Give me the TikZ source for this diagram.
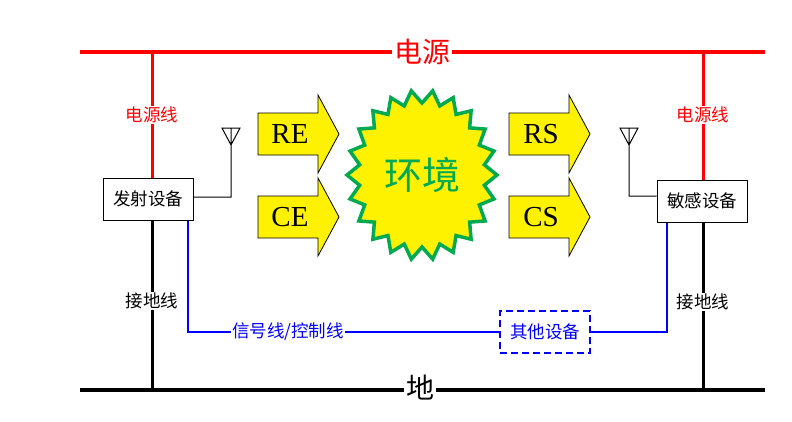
\documentclass[tikz,border=0pt]{standalone}
\usepackage{fontspec}
\setmainfont{Liberation Serif}
\newfontfamily\cjk{Noto Sans CJK SC}
\usetikzlibrary{calc}
\begin{document}
\begin{tikzpicture}[x=1pt,y=-1pt,
  dev/.style={draw,line width=1pt,fill=white,minimum width=90pt,minimum height=42pt,inner sep=0pt,font=\cjk\fontsize{17.5}{17.5}\selectfont},
  lab/.style={fill=white,inner sep=1pt,font=\cjk\fontsize{17.5}{17.5}\selectfont},
  arr/.style={draw,line width=0.8pt,fill=yellow},
  ant/.style={line width=1pt}]
\useasboundingbox (0,0) rectangle (792,421);
% power and ground
\coordinate (pl) at (80,52); \coordinate (pr) at (765,52);
\coordinate (gl) at (80,390); \coordinate (gr) at (765,390);
\draw[red,line width=3.5pt] (pl) -- (pr);
\draw[line width=3.5pt] (gl) -- (gr);
\node (tx) [dev] at (148,199) {发射设备};
\node (rx) [dev] at (702,201) {敏感设备};
\coordinate (txp) at (152,52); \coordinate (rxp) at (703,52);
\coordinate (txg) at (152,390); \coordinate (rxg) at (703,390);
\draw[red,line width=3pt] (txp) -- (tx.north -| txp);
\draw[red,line width=3pt] (rxp) -- (rx.north -| rxp);
\draw[line width=3pt] (tx.south -| txg) -- (txg);
\draw[line width=3pt] (rx.south -| rxg) -- (rxg);
\node[lab,text=red] at (152,115) {电源线};
\node[lab,text=red] at (703,115) {电源线};
\node[lab] at (152,301) {接地线};
\node[lab] at (703,302) {接地线};
\node[fill=white,inner sep=2pt,text=red,font=\cjk\fontsize{28}{28}\selectfont] at (422,52) {电源};
\node[fill=white,inner sep=2pt,font=\cjk\fontsize{28}{28}\selectfont] at (420,388) {地};
% antennas
\coordinate (a1) at (231,145); \coordinate (a2) at (629,145);
\draw[ant] (222,128) -- (240,128) -- (a1) -- cycle (231,128) -- (a1) -- (231,197) -- (tx.east |- 0,197);
\draw[ant] (620,128) -- (638,128) -- (a2) -- cycle (629,128) -- (a2) -- (629,196) -- (rx.west |- 0,196);
% signal line
\node (oth) [draw=blue,dash pattern=on 7pt off 4pt,line width=1.5pt,text=blue,minimum width=90pt,minimum height=42pt,inner sep=0pt,font=\cjk\fontsize{17.5}{17.5}\selectfont] at (545,332) {其他设备};
\draw[blue,line width=2.5pt] (tx.south -| 188,0) -- (188,332) -- (oth.west);
\draw[blue,line width=2.5pt] (oth.east) -- (667,332) -- (rx.south -| 667,0);
\node[lab,text=blue] at (288,332) {信号线/控制线};
% arrows
\foreach \x/\y/\t in {258/134/RE,258/217/CE,509/134/RS,509/217/CS}{
  \draw[arr] (\x,\y-21) -- (\x+60,\y-21) -- (\x+60,\y-39) -- (\x+81,\y) -- (\x+60,\y+39) -- (\x+60,\y+21) -- (\x,\y+21) -- cycle;
  \node[font=\fontsize{29}{29}\selectfont] at (\x+32,\y) {\t};
}
% starburst
\coordinate (sc) at (422,175);
\draw[line width=3.5pt,draw={rgb,255:red,0;green,170;blue,80},fill=yellow]
  (497,175) \foreach \i in {1,...,43}{
    -- ({422+(mod(\i,2)==0?75:63)*cos(\i*360/44)},{175+(mod(\i,2)==0?85:72)*sin(\i*360/44)})
  } -- cycle;
\node[text={rgb,255:red,0;green,170;blue,80},font=\cjk\fontsize{38}{38}\selectfont] at (sc) {环境};
\end{tikzpicture}
\end{document}
